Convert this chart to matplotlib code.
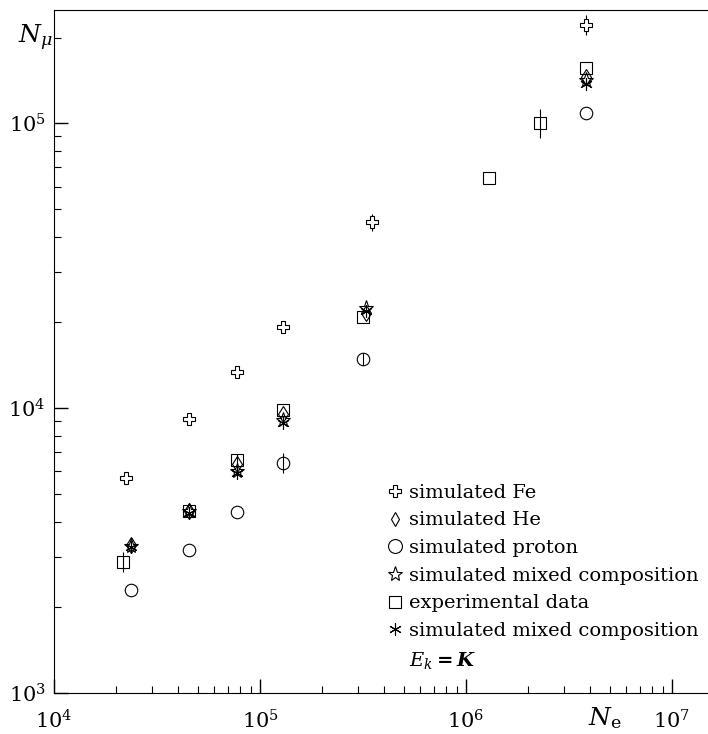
import numpy as np
import matplotlib
matplotlib.use("Agg")
import matplotlib.pyplot as plt
from matplotlib.lines import Line2D

plt.rcParams["font.family"] = ["DejaVu Serif"]
plt.rcParams["mathtext.fontset"] = "dejavuserif"

#---Data---

fe_x = [2.24e4, 4.5e4, 7.7e4, 1.3e5, 3.5e5, 3.82e6]
fe_y = [5.68e3, 9.14e3, 1.34e4, 1.92e4, 4.5e4, 2.21e5]
fe_err = [0.0, 0.0, 0.0, 0.0, 0.03, 0.035]

he_x = [2.37e4, 4.5e4, 7.7e4, 1.3e5, 3.27e5, 3.82e6]
he_y = [3.3e3, 4.35e3, 6.35e3, 9.55e3, 2.15e4, 1.45e5]

proton_x = [2.37e4, 4.5e4, 7.7e4, 1.3e5, 3.16e5, 3.82e6]
proton_y = [2.30e3, 3.18e3, 4.32e3, 6.41e3, 1.49e4, 1.09e5]
proton_err = [0.0, 0.0, 0.0, 0.035, 0.02, 0.0]

mixed_x = [2.37e4, 4.5e4, 7.7e4, 1.3e5, 3.27e5, 3.82e6]
mixed_y = [3.28e3, 4.35e3, 6.0e3, 9.1e3, 2.24e4, 1.42e5]

exp_x = [2.17e4, 4.5e4, 7.7e4, 1.3e5, 3.16e5, 1.29e6, 2.3e6, 3.82e6]
exp_y = [2.88e3, 4.35e3, 6.6e3, 9.85e3, 2.09e4, 6.41e4, 1.0e5, 1.57e5]
exp_err = [0.035, 0.0, 0.02, 0.0, 0.0, 0.0, 0.05, 0.0]

ek_x = [2.37e4, 4.5e4, 7.7e4, 1.3e5, 3.27e5, 3.82e6]
ek_y = [3.25e3, 4.3e3, 5.9e3, 8.9e3, 2.2e4, 1.37e5]

#---Figure---

def log_err(y, e):
    y = np.array(y)
    e = np.array(e)
    return [y - y / 10**e, y * 10**e - y]

fig = plt.figure(figsize=(7.08, 7.34), dpi=100)
ax = fig.add_axes([54/708, 41/734, 660/708, 683/734])
ax.set_xscale("log")
ax.set_yscale("log")

ms = 9
ax.errorbar(fe_x, fe_y, yerr=log_err(fe_y, fe_err), fmt="none", ecolor="black", elinewidth=0.8)
ax.errorbar(proton_x, proton_y, yerr=log_err(proton_y, proton_err), fmt="none", ecolor="black", elinewidth=0.8)
ax.errorbar(exp_x, exp_y, yerr=log_err(exp_y, exp_err), fmt="none", ecolor="black", elinewidth=0.8)

ax.plot(fe_x, fe_y, "P", ms=ms, mfc="white", mec="black", mew=0.8, ls="none")
ax.plot(he_x, he_y, "d", ms=ms-1, mfc="none", mec="black", mew=0.8, ls="none")
ax.plot(proton_x, proton_y, "o", ms=ms, mfc="none", mec="black", mew=0.8, ls="none")
ax.plot(exp_x, exp_y, "s", ms=ms, mfc="none", mec="black", mew=0.8, ls="none")
ax.plot(mixed_x, mixed_y, "*", ms=ms+2, mfc="none", mec="black", mew=0.8, ls="none")
ax.plot(ek_x, ek_y, marker=(6, 2, 0), ms=ms, color="black", mew=0.8, ls="none")

ax.set_xlim(1e4, 1.6e7)
ax.set_ylim(1e3, 2.5e5)

ax.tick_params(which="both", direction="in", labelsize=15, colors="black")
ax.tick_params(which="major", length=10, width=1)
ax.tick_params(which="minor", length=5, width=0.8)
ax.tick_params(axis="x", pad=12)
ax.tick_params(axis="y", pad=6)
ax.spines["right"].set_visible(False)

handles = [
    Line2D([], [], marker="P", ms=ms, mfc="white", mec="black", mew=0.8, ls="none"),
    Line2D([], [], marker="d", ms=ms-2, mfc="none", mec="black", mew=0.8, ls="none"),
    Line2D([], [], marker="o", ms=ms+1, mfc="none", mec="black", mew=0.8, ls="none"),
    Line2D([], [], marker="*", ms=ms+2, mfc="none", mec="black", mew=0.8, ls="none"),
    Line2D([], [], marker="s", ms=ms, mfc="none", mec="black", mew=0.8, ls="none"),
    Line2D([], [], marker=(6, 2, 0), ms=ms, color="black", mew=0.8, ls="none"),
    Line2D([], [], ls="none"),
]
labels = ["simulated Fe", "simulated He", "simulated proton",
          "simulated mixed composition", "experimental data",
          "simulated mixed composition", "$\\boldsymbol{E_k = K}$"]
ax.legend(handles, labels, loc="upper left", bbox_to_anchor=(0.49, 0.318),
          frameon=False, fontsize=14, handletextpad=0.25, handlelength=1.0,
          labelspacing=0.5, borderaxespad=0)

fig.text(18/708, 1 - 38/734, "$N_\\mu$", fontsize=18, va="center")
fig.text(588/708, 1 - 718/734, "$N_{\\rm e}$", fontsize=18, va="center")

plt.savefig("out.png", dpi=100)
